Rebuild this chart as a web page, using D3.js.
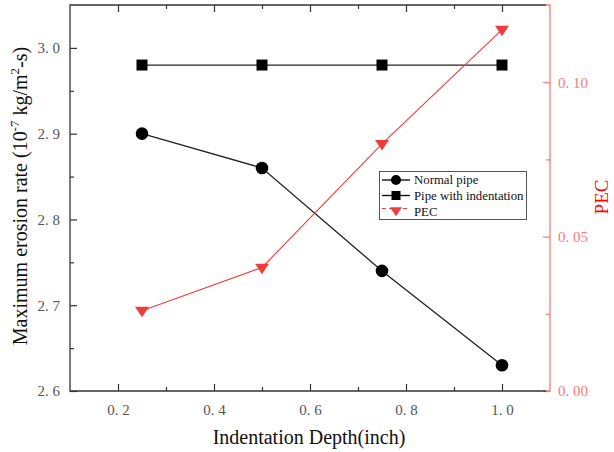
<!DOCTYPE html>
<html><head><meta charset="utf-8">
<script src="https://cdn.jsdelivr.net/npm/d3@7"></script>
<style>body{margin:0;background:#fff}svg{display:block}</style>
</head><body>
<script>
const depths = [0.25, 0.5, 0.75, 1.0];
const normalPipe = [2.90, 2.86, 2.74, 2.63];
const pipeIndent = [2.98, 2.98, 2.98, 2.98];
const pec = [0.026, 0.040, 0.080, 0.117];
const xTicks = [0.2, 0.4, 0.6, 0.8, 1.0];
const yTicks = [2.6, 2.7, 2.8, 2.9, 3.0];
const y2Ticks = [0.00, 0.05, 0.10];
const legendLabels = ["Normal pipe", "Pipe with indentation", "PEC"];

const W = 614, H = 452;
const L = 70, R = 550, T = 5, B = 391;
const font = "'Liberation Serif','Times New Roman',serif";
const svg = d3.select("body").append("svg").attr("width", W).attr("height", H);

const x = d3.scaleLinear().domain([0.1, 1.1]).range([L, R]);
const y = d3.scaleLinear().domain([2.6, 3.05]).range([B, T]);
const y2 = d3.scaleLinear().domain([0, 0.125]).range([B, T]);

const axisCol = "#333", labCol = "#555", red = "#f23c3c", redAxis = "#f77", redLab = "#f77";

const xMinor = [0.1, 0.3, 0.5, 0.7, 0.9];
const yMinor = [2.65, 2.75, 2.85, 2.95];
const y2Minor = [0.025, 0.075];

function fmt1(v){ return v.toFixed(1).replace(".", ". "); }
function fmt2(v){ return v.toFixed(2).replace(".", ". "); }

// bottom axis
const gB = svg.append("g").attr("transform", `translate(0,${B})`)
  .call(d3.axisBottom(x).tickValues(xTicks).tickSize(-7).tickPadding(13).tickFormat(fmt1));
gB.select(".domain").remove();
gB.selectAll(".tick line").attr("stroke", axisCol).attr("stroke-width", 1.2);
gB.selectAll(".tick text").attr("fill", labCol).style("font-family", font).style("font-size", "15px");
svg.append("g").attr("transform", `translate(0,${B})`)
  .call(d3.axisBottom(x).tickValues(xMinor.filter(v => v > 0.15)).tickSize(-4).tickFormat(""))
  .call(g => g.select(".domain").remove())
  .selectAll("line").attr("stroke", axisCol).attr("stroke-width", 1.2);
// top axis
svg.append("g").attr("transform", `translate(0,${T})`)
  .call(d3.axisTop(x).tickValues(xTicks).tickSize(-7).tickFormat(""))
  .call(g => g.select(".domain").remove())
  .selectAll("line").attr("stroke", axisCol).attr("stroke-width", 1.2);
svg.append("g").attr("transform", `translate(0,${T})`)
  .call(d3.axisTop(x).tickValues(xMinor.filter(v => v > 0.15)).tickSize(-4).tickFormat(""))
  .call(g => g.select(".domain").remove())
  .selectAll("line").attr("stroke", axisCol).attr("stroke-width", 1.2);

// left axis
const gL = svg.append("g").attr("transform", `translate(${L},0)`)
  .call(d3.axisLeft(y).tickValues(yTicks).tickSize(-7).tickPadding(10).tickFormat(fmt1));
gL.select(".domain").remove();
gL.selectAll(".tick line").attr("stroke", axisCol).attr("stroke-width", 1.2);
gL.selectAll(".tick text").attr("fill", labCol).style("font-family", font).style("font-size", "15px");
svg.append("g").attr("transform", `translate(${L},0)`)
  .call(d3.axisLeft(y).tickValues(yMinor).tickSize(-4).tickFormat(""))
  .call(g => g.select(".domain").remove())
  .selectAll("line").attr("stroke", axisCol).attr("stroke-width", 1.2);

// right axis
const gR = svg.append("g").attr("transform", `translate(${R},0)`)
  .call(d3.axisRight(y2).tickValues(y2Ticks).tickSize(-7).tickPadding(8).tickFormat(fmt2));
gR.select(".domain").remove();
gR.selectAll(".tick line").attr("stroke", redAxis).attr("stroke-width", 1.2);
gR.selectAll(".tick text").attr("fill", redLab).style("font-family", font).style("font-size", "15px");
svg.append("g").attr("transform", `translate(${R},0)`)
  .call(d3.axisRight(y2).tickValues(y2Minor).tickSize(-4).tickFormat(""))
  .call(g => g.select(".domain").remove())
  .selectAll("line").attr("stroke", redAxis).attr("stroke-width", 1.2);

// frame lines
svg.append("path").attr("d", `M${R - 4},${T}H${L}V${B}H${R - 4}`).attr("fill", "none").attr("stroke", axisCol).attr("stroke-width", 1.3);
svg.append("path").attr("d", `M${R - 4},${T}H${R}V${B}H${R - 4}`).attr("fill", "none").attr("stroke", redAxis).attr("stroke-width", 1.3);

// series
const lineN = d3.line().x((d, i) => x(depths[i])).y(d => y(d));
const lineP = d3.line().x((d, i) => x(depths[i])).y(d => y2(d));

svg.append("path").datum(pipeIndent).attr("d", lineN).attr("fill", "none").attr("stroke", "#222").attr("stroke-width", 1.3);
svg.append("path").datum(normalPipe).attr("d", lineN).attr("fill", "none").attr("stroke", "#222").attr("stroke-width", 1.3);
svg.append("path").datum(pec).attr("d", lineP).attr("fill", "none").attr("stroke", red).attr("stroke-width", 1.1);

const sym = d3.symbol();
svg.selectAll(".sq").data(pipeIndent).join("path")
  .attr("transform", (d, i) => `translate(${x(depths[i])},${y(d)})`)
  .attr("d", sym.type(d3.symbolSquare).size(121)()).attr("fill", "#000");
svg.selectAll(".ci").data(normalPipe).join("circle")
  .attr("cx", (d, i) => x(depths[i])).attr("cy", d => y(d)).attr("r", 6.3).attr("fill", "#000");
const tri = (cx, cy, s) => `M${cx - s},${cy - s * 0.55}L${cx + s},${cy - s * 0.55}L${cx},${cy + s * 0.95}Z`;
svg.selectAll(".tr").data(pec).join("path")
  .attr("d", (d, i) => tri(x(depths[i]), y2(d), 7)).attr("fill", red);

// legend
const lg = svg.append("g");
lg.append("rect").attr("x", 379.5).attr("y", 171.5).attr("width", 147).attr("height", 48)
  .attr("fill", "#fff").attr("stroke", "#555").attr("stroke-width", 1);
const rowsY = [180, 195.5, 211.5];
legendLabels.forEach((lab, i) => {
  const yy = rowsY[i];
  if (i < 2) {
    lg.append("line").attr("x1", 382).attr("x2", 410).attr("y1", yy).attr("y2", yy).attr("stroke", "#000").attr("stroke-width", 1.3);
    if (i === 0) lg.append("circle").attr("cx", 396).attr("cy", yy).attr("r", 5).attr("fill", "#000");
    else lg.append("rect").attr("x", 391.5).attr("y", yy - 4.5).attr("width", 9).attr("height", 9).attr("fill", "#000");
  } else {
    lg.append("line").attr("x1", 382).attr("x2", 410).attr("y1", yy - 3).attr("y2", yy - 3).attr("stroke", red).attr("stroke-width", 1.2).attr("stroke-dasharray", "4,3");
    lg.append("path").attr("d", tri(396, yy - 1, 6)).attr("fill", red);
  }
  lg.append("text").attr("x", 414).attr("y", yy + 4).text(lab)
    .style("font-family", font).style("font-size", "12.8px").attr("fill", "#111");
});

// axis titles
svg.append("text").attr("x", 309).attr("y", 444).attr("text-anchor", "middle")
  .style("font-family", font).style("font-size", "20px").attr("fill", "#111").text("Indentation Depth(inch)");
const yt = svg.append("text").attr("transform", `translate(27,196) rotate(-90)`).attr("text-anchor", "middle")
  .style("font-family", font).style("font-size", "20px").attr("fill", "#111");
yt.append("tspan").text("Maximum erosion rate (10");
yt.append("tspan").attr("dy", -8).style("font-size", "13px").text("-7");
yt.append("tspan").attr("dy", 8).text(" kg/m");
yt.append("tspan").attr("dy", -8).style("font-size", "13px").text("2");
yt.append("tspan").attr("dy", 8).text("-s)");
svg.append("text").attr("transform", `translate(608,197) rotate(-90)`).attr("text-anchor", "middle")
  .style("font-family", font).style("font-size", "19px").attr("fill", "#f00").text("PEC");
</script>
</body></html>
